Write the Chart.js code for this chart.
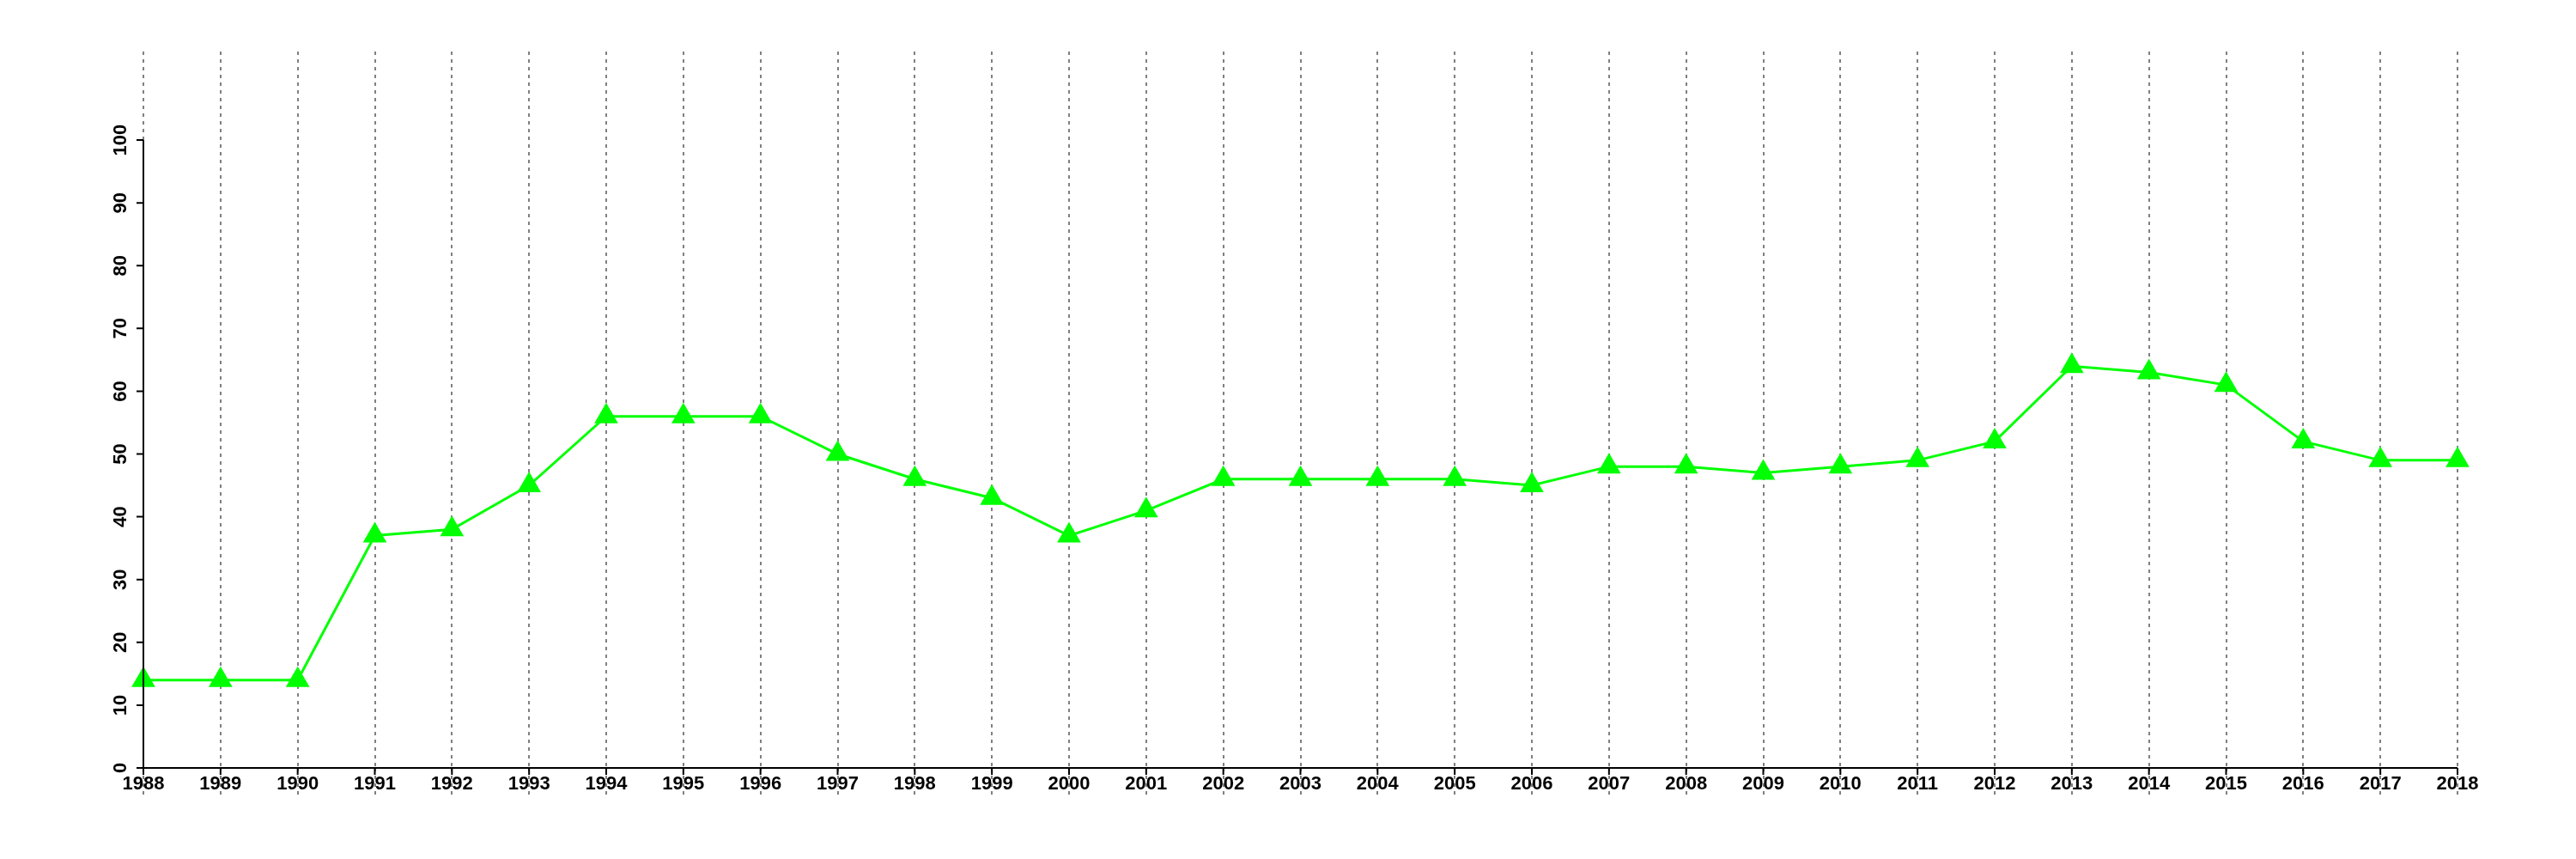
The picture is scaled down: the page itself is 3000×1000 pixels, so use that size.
<!DOCTYPE html>
<html>
<head>
<meta charset="utf-8">
<script src="https://cdn.jsdelivr.net/npm/chart.js@4/dist/chart.umd.min.js"></script>
<style>
  html, body { margin: 0; padding: 0; background: #fff; }
  #wrap { width: 3000px; height: 1000px; }
</style>
</head>
<body>
<div id="wrap"><canvas id="myChart" width="3000" height="1000"></canvas></div>
<script>
// data
const years = ['1988','1989','1990','1991','1992','1993','1994','1995','1996','1997',
  '1998','1999','2000','2001','2002','2003','2004','2005','2006','2007','2008',
  '2009','2010','2011','2012','2013','2014','2015','2016','2017','2018'];
const values = [14, 14, 14, 37, 38, 45, 56, 56, 56, 50,
  46, 43, 37, 41, 46, 46, 46, 46, 45, 48, 48,
  47, 48, 49, 52, 64, 63, 61, 52, 49, 49];
const yTicks = [0, 10, 20, 30, 40, 50, 60, 70, 80, 90, 100];

const ctx = document.getElementById('myChart');

// solid black axes with short ticks, like base R graphics
const axesPlugin = {
  id: 'rAxes',
  afterDraw(chart) {
    const c = chart.ctx;
    const xs = chart.scales.x;
    const ys = chart.scales.y;
    const y0 = ys.getPixelForValue(0);
    const x0 = xs.getPixelForValue(0);
    const x1 = xs.getPixelForValue(years.length - 1);
    c.save();
    c.strokeStyle = '#000';
    c.lineWidth = 2;
    c.beginPath();
    c.moveTo(x0, y0); c.lineTo(x1, y0);
    c.moveTo(x0, y0); c.lineTo(x0, ys.getPixelForValue(100));
    years.forEach(function (v, i) {
      const px = xs.getPixelForValue(i);
      c.moveTo(px, y0); c.lineTo(px, y0 + 8);
    });
    yTicks.forEach(function (v) {
      const py = ys.getPixelForValue(v);
      c.moveTo(x0, py); c.lineTo(x0 - 8, py);
    });
    c.stroke();
    c.restore();
  }
};

new Chart(ctx, {
  type: 'line',
  data: {
    labels: years,
    datasets: [{
      data: values,
      borderColor: '#00ff00',
      backgroundColor: '#00ff00',
      borderWidth: 3,
      pointStyle: 'triangle',
      pointRadius: 16,
      pointHoverRadius: 16,
      pointBorderWidth: 0,
      pointBackgroundColor: '#00ff00',
      tension: 0,
      clip: false
    }]
  },
  options: {
    responsive: false,
    animation: false,
    layout: { padding: { left: 0, right: 138, top: 60, bottom: 50 } },
    plugins: { legend: { display: false }, tooltip: { enabled: false } },
    scales: {
      x: {
        offset: false,
        z: 1,
        grid: {
          color: '#808080',
          lineWidth: 2,
          drawTicks: true,
          tickLength: 33,
          tickColor: '#808080',
          tickWidth: 2,
          tickBorderDash: [4, 5]
        },
        border: { display: false, dash: [4, 5] },
        ticks: {
          autoSkip: false,
          maxRotation: 0,
          minRotation: 0,
          padding: -27,
          color: '#000',
          font: { family: 'Liberation Sans', size: 22, weight: 'bold' }
        },
        afterFit: function (s) { s.height = 56; }
      },
      y: {
        min: 0,
        max: 114.1,
        grid: { drawOnChartArea: false, drawTicks: false },
        border: { display: false },
        afterBuildTicks: function (s) {
          s.ticks = yTicks.map(function (v) { return { value: v }; });
        },
        ticks: {
          minRotation: 90,
          maxRotation: 90,
          crossAlign: 'center',
          padding: 8,
          color: '#000',
          font: { family: 'Liberation Sans', size: 22, weight: 'bold' }
        },
        afterFit: function (s) { s.width = 167; }
      }
    }
  },
  plugins: [axesPlugin]
});
</script>
</body>
</html>
